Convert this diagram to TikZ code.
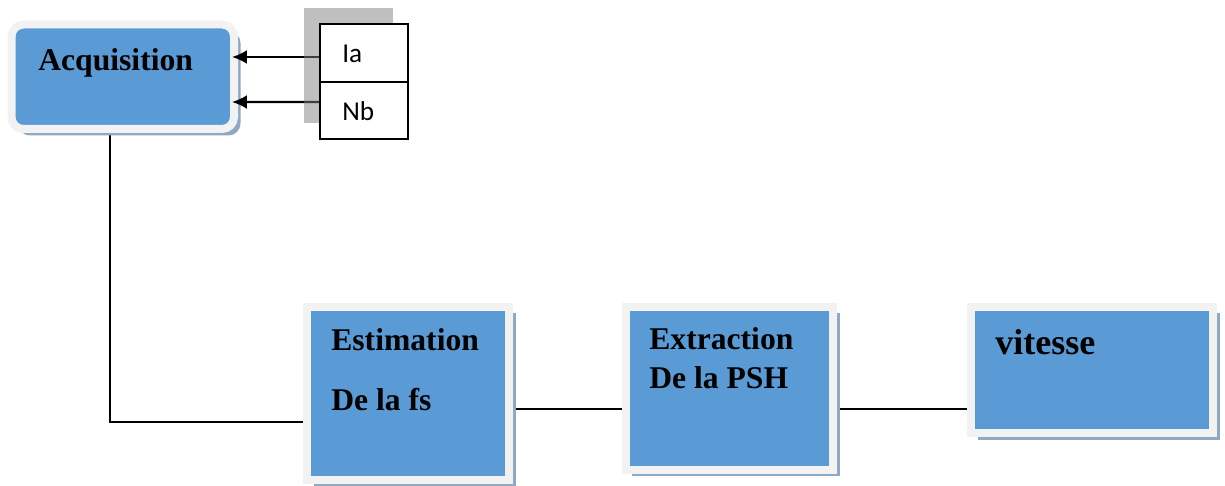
\documentclass[tikz,border=0pt]{standalone}
\usepackage{fontspec}
\setmainfont{Liberation Serif}
\newfontfamily\labelsans{Carlito}
\usetikzlibrary{arrows.meta,shadows,calc}

\definecolor{blockblue}{HTML}{5B9BD5}
\definecolor{blockrim}{HTML}{F2F2F2}
\definecolor{blockshade}{HTML}{8FA8C4}
\definecolor{tabgray}{HTML}{7F7F7F}

% drawing order: links, blocks, feed arrows, grey tab, signal boxes
\pgfdeclarelayer{blocks}
\pgfdeclarelayer{feeds}
\pgfdeclarelayer{tab}
\pgfdeclarelayer{signals}
\pgfsetlayers{main,blocks,feeds,tab,signals}

\tikzset{
  block/.style={rectangle, fill=blockblue, draw=blockrim, line width=8*0.02cm,
    inner sep=0pt, outer sep=0pt,
    drop shadow={shadow xshift=0.13cm, shadow yshift=-0.13cm, fill=blockshade, opacity=1}},
  blocktext/.style={anchor=base west, inner sep=0pt, font=\bfseries\fontsize{18}{21}\selectfont},
  signal/.style={rectangle, draw=black, line width=0.9pt, fill=white, inner sep=0pt,
    outer sep=0pt, minimum width=88*0.02cm},
  signaltext/.style={anchor=base west, inner sep=0pt, font=\labelsans\fontsize{15.5}{18}\selectfont},
  link/.style={draw=black, line width=0.85pt},
  feed/.style={draw=black, line width=1.3pt, -{Latex[length=0.3cm,width=0.28cm]}},
}

\begin{document}
\begin{tikzpicture}[x=0.02cm, y=-0.02cm]
\useasboundingbox (0,0) rectangle (1225,486);

% processing blocks
\begin{pgfonlayer}{blocks}
\node[block, rounded corners=0.24cm, minimum width=222.5*0.02cm, minimum height=104.5*0.02cm]
  (acq) at (122.75,76.75) {};
\node[block, minimum width=202*0.02cm, minimum height=173*0.02cm] (est) at (408,393.5) {};
\node[block, minimum width=207.5*0.02cm, minimum height=163*0.02cm] (ext) at (729.25,388.5) {};
\node[block, minimum width=242*0.02cm, minimum height=126.5*0.02cm] (vit) at (1092,370.25) {};

\node[blocktext] (acqlabel) at (38,71) {Acquisition};
\node[blocktext] (estlabel1) at (331,351) {Estimation};
\node[blocktext] (estlabel2) at (331,410.5) {De la fs};
\node[blocktext] (extlabel1) at (649,350) {Extraction};
\node[blocktext] (extlabel2) at (649,389) {De la PSH};
\node[blocktext, font=\bfseries\fontsize{20.5}{24}\selectfont] (vitlabel) at (995,355) {vitesse};
\end{pgfonlayer}

% measured signals
\begin{pgfonlayer}{signals}
\node[signal, minimum height=58*0.02cm] (ia) at (364,53) {};
\node[signal, minimum height=57*0.02cm] (nb) at (364,110.5) {};
\node[signaltext] (ialabel) at (342,62.3) {Ia};
\node[signaltext] (nblabel) at (342,120.7) {Nb};
\end{pgfonlayer}

% tab behind the signal boxes, shading the arrows that pass over it
\begin{pgfonlayer}{tab}
\fill[tabgray, fill opacity=0.5] (304,8) rectangle (393,123);
\end{pgfonlayer}

% connectors between the processing blocks
\coordinate (bend) at (110,422);
\draw[link] ($(acq.south)+(-12.75,0)$) -- (bend) -- (est.west |- bend);
\draw[link] ($(est.east)+(0,15.5)$) -- (ext.west |- {$(est.east)+(0,15.5)$});
\draw[link] ($(ext.east)+(0,20.5)$) -- (vit.west |- {$(ext.east)+(0,20.5)$});

% signal feeds into the acquisition block
\begin{pgfonlayer}{feeds}
\draw[feed] ($(ia.west)+(0,4)$) -- ($(acq.east)+(-2,-19.75)$);
\draw[feed] ($(nb.west)+(0,-8.5)$) -- ($(acq.east)+(-2,25.25)$);
\end{pgfonlayer}
\end{tikzpicture}
\end{document}
